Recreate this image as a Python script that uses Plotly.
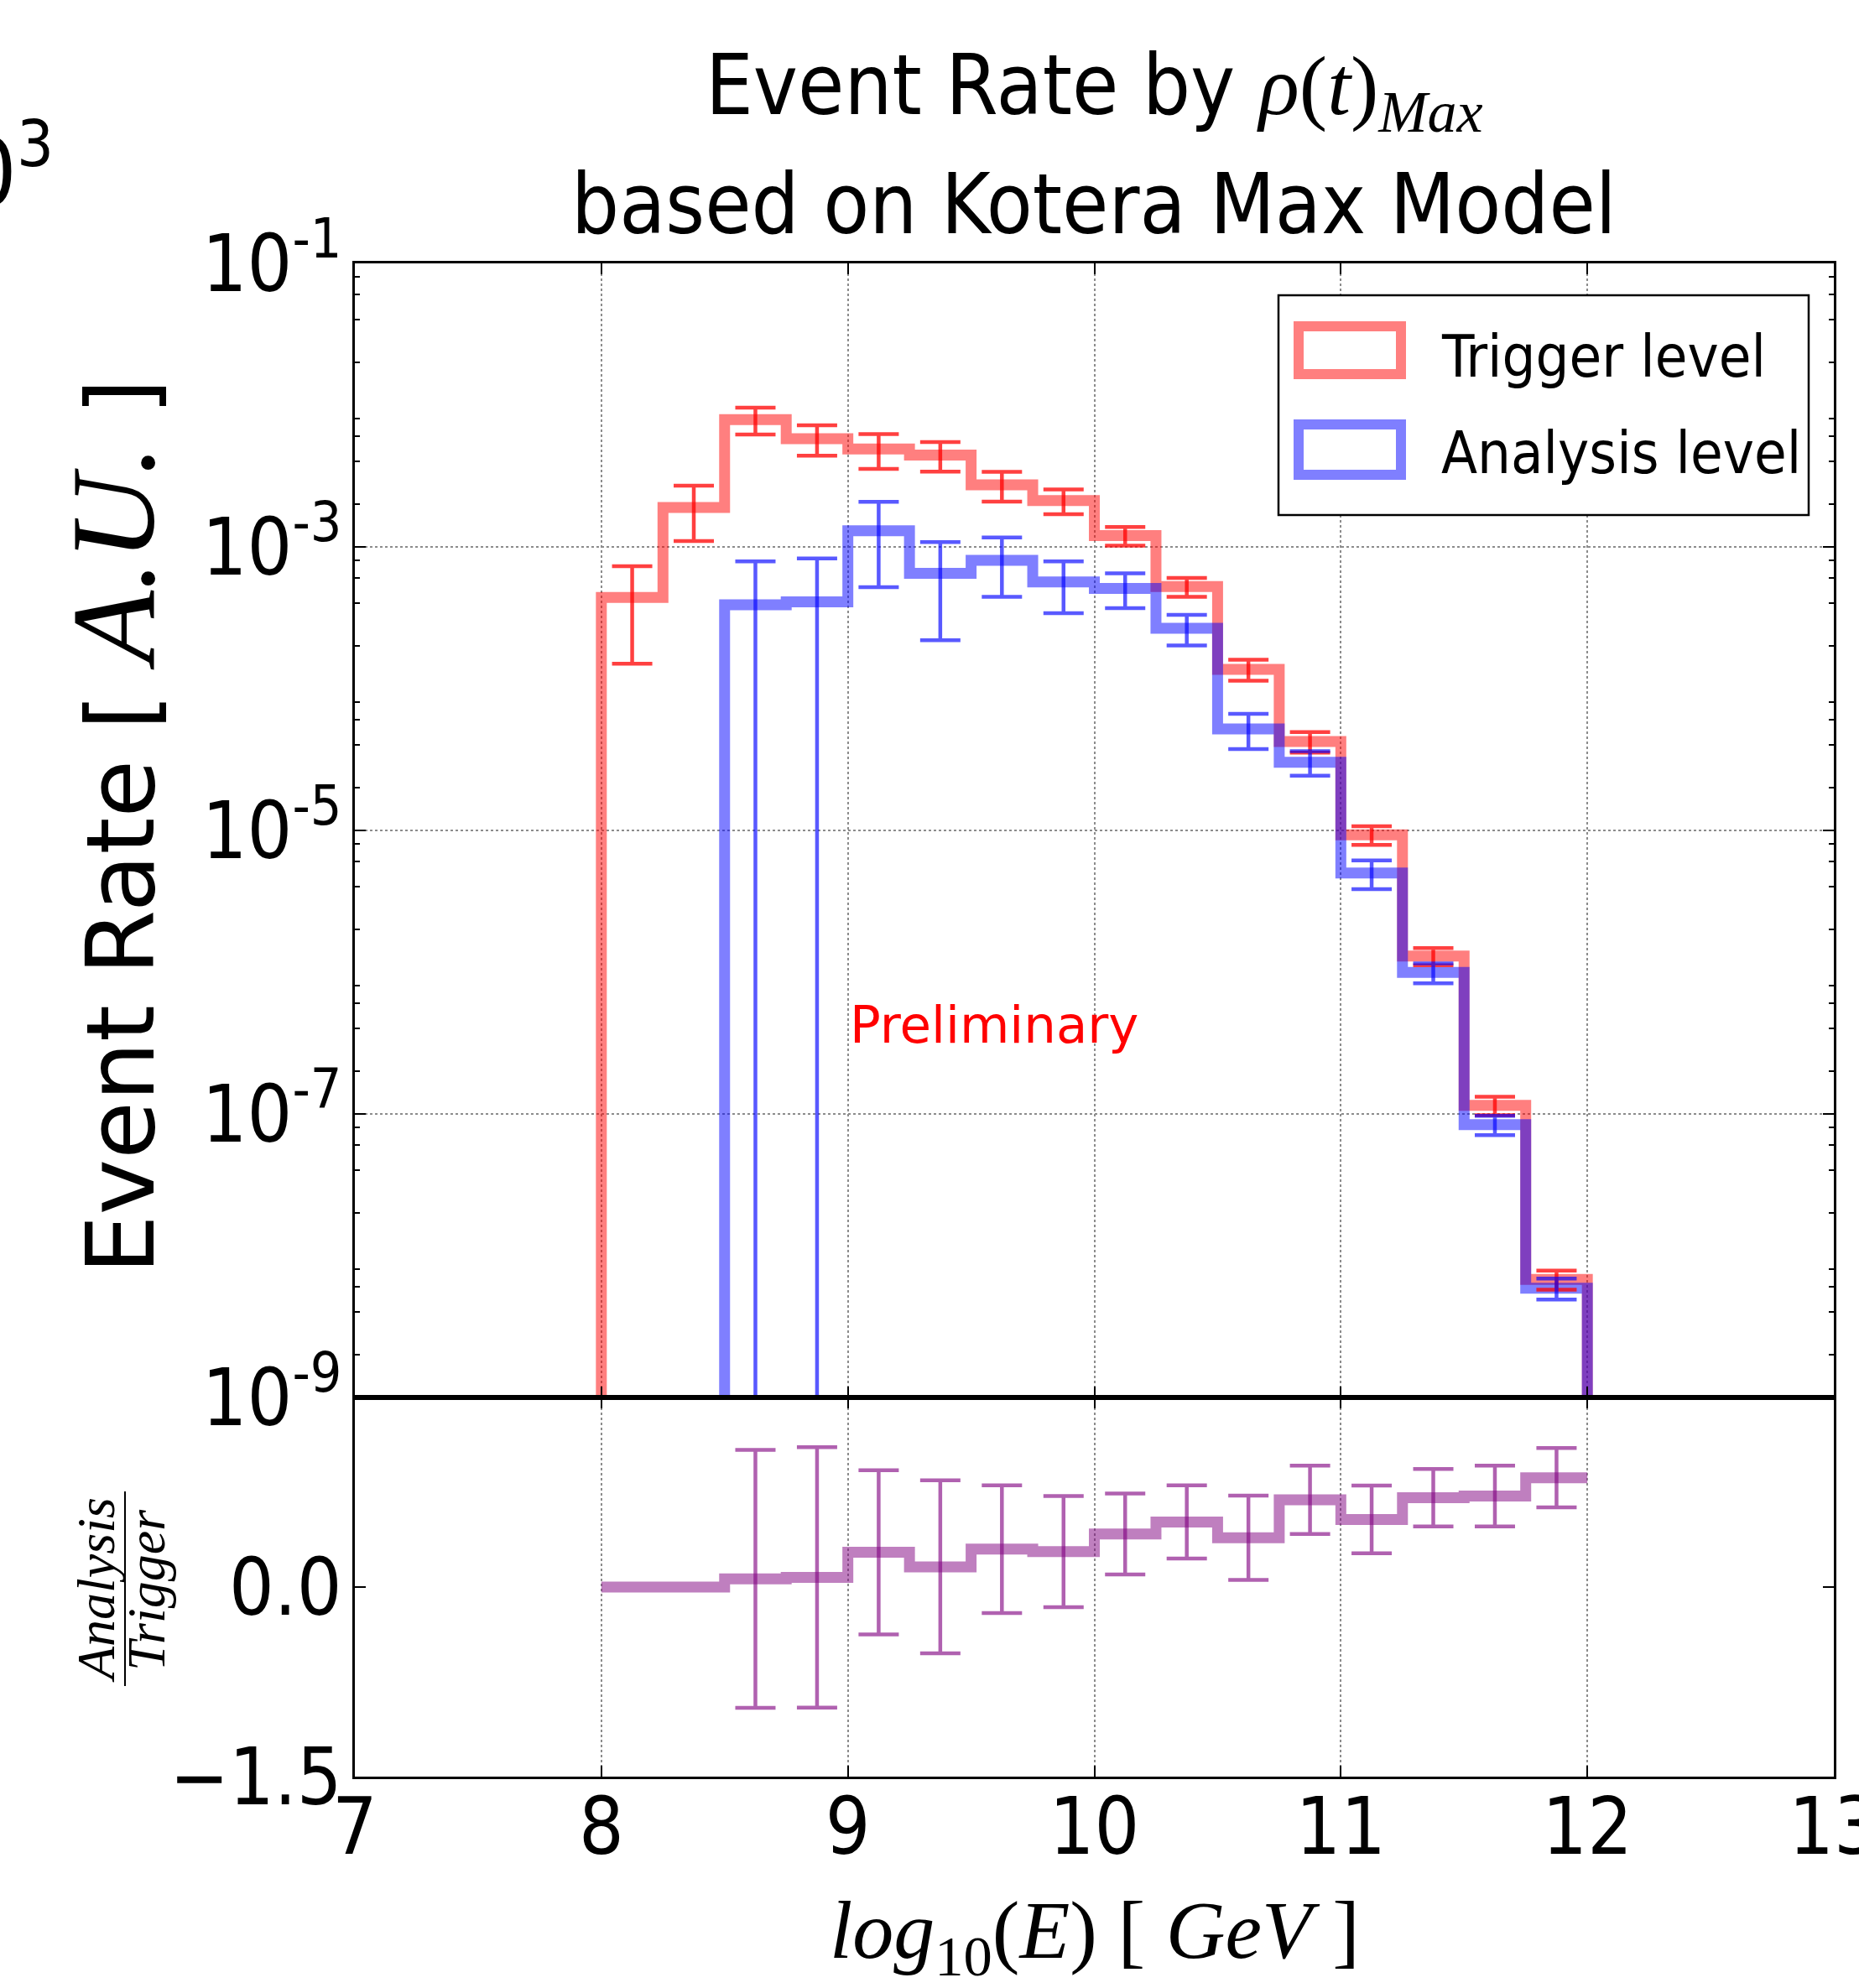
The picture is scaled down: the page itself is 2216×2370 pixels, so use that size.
import plotly.graph_objects as go

# ---------------- data ----------------
bin_edges = [8.0, 8.25, 8.5, 8.75, 9.0, 9.25, 9.5, 9.75, 10.0,
             10.25, 10.5, 10.75, 11.0, 11.25, 11.5, 11.75, 12.0]

trigger_rate = [4.4e-4, 1.9e-3, 7.9e-3, 5.8e-3, 4.9e-3, 4.45e-3, 2.74e-3, 2.12e-3,
                1.2e-3, 5.25e-4, 1.37e-4, 4.24e-5, 9.3e-6, 1.3e-6, 1.15e-7, 6.8e-9]
trigger_err = [2.9e-4, 8.0e-4, 1.7e-3, 1.4e-3, 1.35e-3, 1.05e-3, 6.5e-4, 4.2e-4,
               1.8e-4, 8.0e-5, 2.3e-5, 7.0e-6, 1.4e-6, 1.8e-7, 1.7e-8, 1.05e-9]

analysis_rate = [0.0, 0.0, 3.9e-4, 4.1e-4, 1.3e-3, 6.5e-4, 8.05e-4, 5.66e-4,
                 5.1e-4, 2.67e-4, 5.2e-5, 3.03e-5, 5.0e-6, 9.95e-7, 8.4e-8, 5.9e-9]
analysis_err = [None, None, 4.0e-4, 4.2e-4, 7.8e-4, 4.3e-4, 3.6e-4, 2.25e-4,
                1.4e-4, 6.5e-5, 1.45e-5, 6.0e-6, 1.15e-6, 1.6e-7, 1.3e-8, 1.0e-9]

ratio = [0.0, 0.0, 0.065, 0.076, 0.275, 0.16, 0.30, 0.28,
         0.42, 0.515, 0.39, 0.69, 0.535, 0.707, 0.72, 0.865]
ratio_err = [None, None, 1.02, 1.03, 0.65, 0.685, 0.505, 0.44,
             0.32, 0.29, 0.333, 0.27, 0.268, 0.228, 0.24, 0.235]

x_ticks = [7, 8, 9, 10, 11, 12, 13]
x_tick_labels = ["7", "8", "9", "10", "11", "12", "13"]
y_ticks = [1e-9, 1e-7, 1e-5, 1e-3, 1e-1]
y_tick_labels = ["10<sup>-9</sup>", "10<sup>-7</sup>", "10<sup>-5</sup>",
                 "10<sup>-3</sup>", "10<sup>-1</sup>"]
r_ticks = [-1.5, 0.0]
r_tick_labels = ["\u22121.5", "0.0"]

title_line1 = ("Event Rate by <span style=\"font-family:Liberation Serif\"><i>\u03c1</i>(<i>t</i>)"
               "<sub><i>Max</i></sub></span>")
title_line2 = "based on Kotera Max Model"
y_label = ("Event Rate [ <span style=\"font-family:Liberation Serif;font-size:142px\">"
           "<i>A.U.</i></span> ]")
x_label = "<i>log</i><sub>10</sub>(<i>E</i>) [ <i>GeV</i> ]"
legend_labels = ["Trigger level", "Analysis level"]

# ---------------- geometry helpers ----------------
W, H = 2216, 2370
PL, PR, PT, PB = 423, 2186, 314, 2118
SPLIT = 1666


def px(x):
    return (x - PL) / (PR - PL)


def py(y):
    return (PB - y) / (PB - PT)


NARROW = "Liberation Sans Narrow, DejaVu Sans Condensed, Arial Narrow, sans-serif"
SERIF = "Liberation Serif, DejaVu Serif, serif"
FLOOR = 1e-14

centers = [(a + b) / 2 for a, b in zip(bin_edges[:-1], bin_edges[1:])]


def step_xy(vals):
    start = next(i for i, v in enumerate(vals) if v > 0)
    e = bin_edges[start:]
    v = vals[start:]
    xs = [e[0]] + e + [e[-1]]
    ys = [FLOOR] + v + [v[-1], FLOOR]
    return xs, ys


RED_STEP = "rgba(255,0,0,0.5)"
BLUE_STEP = "rgba(0,0,255,0.5)"
RED_ERR = "rgba(255,0,0,0.75)"
BLUE_ERR = "rgba(0,0,255,0.65)"
PURP_STEP = "rgba(128,0,128,0.5)"
PURP_ERR = "rgba(128,0,128,0.62)"

fig = go.Figure()

xr, yr = step_xy(trigger_rate)
fig.add_trace(go.Scatter(x=xr, y=yr, mode="lines", line=dict(color=RED_STEP, width=13, shape="hv"),
                         name=legend_labels[0], xaxis="x", yaxis="y", showlegend=False, hoverinfo="skip"))
xb, yb = step_xy(analysis_rate)
fig.add_trace(go.Scatter(x=xb, y=yb, mode="lines", line=dict(color=BLUE_STEP, width=13, shape="hv"),
                         name=legend_labels[1], xaxis="x", yaxis="y", showlegend=False, hoverinfo="skip"))

fig.add_trace(go.Scatter(x=centers, y=trigger_rate, mode="markers",
                         marker=dict(size=1, color="rgba(0,0,0,0)"),
                         error_y=dict(type="data", array=trigger_err, color=RED_ERR, thickness=4.5, width=24),
                         xaxis="x", yaxis="y", showlegend=False))
a_idx = [i for i, v in enumerate(analysis_rate) if v > 0]
fig.add_trace(go.Scatter(x=[centers[i] for i in a_idx], y=[analysis_rate[i] for i in a_idx], mode="markers",
                         marker=dict(size=1, color="rgba(0,0,0,0)"),
                         error_y=dict(type="data", array=[analysis_err[i] for i in a_idx],
                                      color=BLUE_ERR, thickness=4.5, width=24),
                         xaxis="x", yaxis="y", showlegend=False))

# ratio panel
fig.add_trace(go.Scatter(x=bin_edges, y=ratio + [ratio[-1]], mode="lines",
                         line=dict(color=PURP_STEP, width=13, shape="hv"),
                         xaxis="x2", yaxis="y2", showlegend=False, hoverinfo="skip"))
r_idx = [i for i, v in enumerate(ratio_err) if v is not None]
fig.add_trace(go.Scatter(x=[centers[i] for i in r_idx], y=[ratio[i] for i in r_idx], mode="markers",
                         marker=dict(size=1, color="rgba(0,0,0,0)"),
                         error_y=dict(type="data", array=[ratio_err[i] for i in r_idx],
                                      color=PURP_ERR, thickness=4.5, width=24),
                         xaxis="x2", yaxis="y2", showlegend=False))

split_frac = py(SPLIT)
grid = dict(showgrid=True, gridcolor="#8c8c8c", griddash="dot", gridwidth=1.6)
frame = dict(showline=True, linecolor="black", linewidth=2.5, mirror="ticks",
             ticks="inside", tickcolor="black", tickwidth=2, ticklen=13, automargin=False)
TICKFONT = dict(family=NARROW, size=94, color="black")

minor_vals = [m * 10.0 ** n for n in range(-9, -1) for m in (2, 4, 6, 8)]

fig.update_layout(
    width=W, height=H,
    margin=dict(l=PL, r=W - PR, t=PT, b=H - PB, autoexpand=False),
    paper_bgcolor="white", plot_bgcolor="white",
    showlegend=False,
    xaxis=dict(domain=[0, 1], anchor="y", range=[7, 13], tickmode="array", tickvals=x_ticks,
               showticklabels=False, matches="x2", **grid, **frame),
    yaxis=dict(domain=[split_frac, 1], anchor="x", type="log", range=[-9, -1],
               tickmode="array", tickvals=y_ticks, ticktext=y_tick_labels,
               tickfont=TICKFONT, ticklabelstandoff=-6,
               minor=dict(tickmode="array", tickvals=minor_vals, ticks="inside", ticklen=6,
                          tickwidth=1.5, tickcolor="black", showgrid=False),
               **grid, **frame),
    xaxis2=dict(domain=[0, 1], anchor="y2", range=[7, 13], tickmode="array", tickvals=x_ticks,
                ticktext=x_tick_labels, tickfont=TICKFONT, ticklabelstandoff=-24,
                ticklabeloverflow="allow",
                **grid, **frame),
    yaxis2=dict(domain=[0, split_frac], anchor="x2", range=[-1.5, 1.5], tickmode="array",
                tickvals=r_ticks, ticktext=r_tick_labels, tickfont=TICKFONT, ticklabelstandoff=-6,
                **grid, **frame),
)

# legend drawn as in the reference (outlined patches inside a framed box)
shapes = [
    dict(type="rect", xref="paper", yref="paper", x0=px(1524), x1=px(2156), y0=py(614), y1=py(352),
         line=dict(color="black", width=2.5), fillcolor="white", layer="above"),
    dict(type="rect", xref="paper", yref="paper", x0=px(1548), x1=px(1670), y0=py(446), y1=py(389),
         line=dict(color=RED_STEP, width=12), layer="above"),
    dict(type="rect", xref="paper", yref="paper", x0=px(1548), x1=px(1670), y0=py(566), y1=py(506),
         line=dict(color=BLUE_STEP, width=12), layer="above"),
    # fraction bar of the ratio axis label
    dict(type="line", xref="paper", yref="paper", x0=px(149), x1=px(149), y0=py(1778), y1=py(2010),
         line=dict(color="black", width=2)),
]
annotations = [
    dict(text=title_line1, xref="paper", yref="paper", x=px(1304), y=py(108),
         xanchor="center", yanchor="middle", showarrow=False,
         font=dict(family=NARROW, size=100, color="black")),
    dict(text=title_line2, xref="paper", yref="paper", x=px(1304), y=py(244),
         xanchor="center", yanchor="middle", showarrow=False,
         font=dict(family=NARROW, size=100, color="black")),
    dict(text=y_label, xref="paper", yref="paper", x=px(135), y=py(985), textangle=-90,
         xanchor="center", yanchor="middle", showarrow=False,
         font=dict(family="DejaVu Sans", size=112, color="black")),
    dict(text=x_label, xref="paper", yref="paper", x=px(1305), y=py(2308),
         xanchor="center", yanchor="middle", showarrow=False,
         font=dict(family=SERIF, size=98, color="black")),
    dict(text=legend_labels[0], xref="paper", yref="paper", x=px(1716), y=py(425),
         xanchor="left", yanchor="middle", showarrow=False,
         font=dict(family=NARROW, size=70, color="black")),
    dict(text=legend_labels[1], xref="paper", yref="paper", x=px(1716), y=py(540),
         xanchor="left", yanchor="middle", showarrow=False,
         font=dict(family=NARROW, size=70, color="black")),
    dict(text="Preliminary", xref="x", yref="y", x=9.0, y=-6.37, xanchor="left", yanchor="middle",
         showarrow=False, font=dict(family="DejaVu Sans", size=61, color="red")),
    dict(text="<i>Analysis</i>", xref="paper", yref="paper", x=px(114), y=py(1896), textangle=-90,
         xanchor="center", yanchor="middle", showarrow=False,
         font=dict(family=SERIF, size=64, color="black")),
    dict(text="<i>Trigger</i>", xref="paper", yref="paper", x=px(174), y=py(1896), textangle=-90,
         xanchor="center", yanchor="middle", showarrow=False,
         font=dict(family=SERIF, size=64, color="black")),
    dict(text="10<sup>3</sup>", xref="paper", yref="paper", x=px(66), y=py(198),
         xanchor="right", yanchor="middle", showarrow=False,
         font=dict(family=NARROW, size=110, color="black")),
]
fig.update_layout(shapes=shapes, annotations=annotations)

fig.write_html("out.html")
